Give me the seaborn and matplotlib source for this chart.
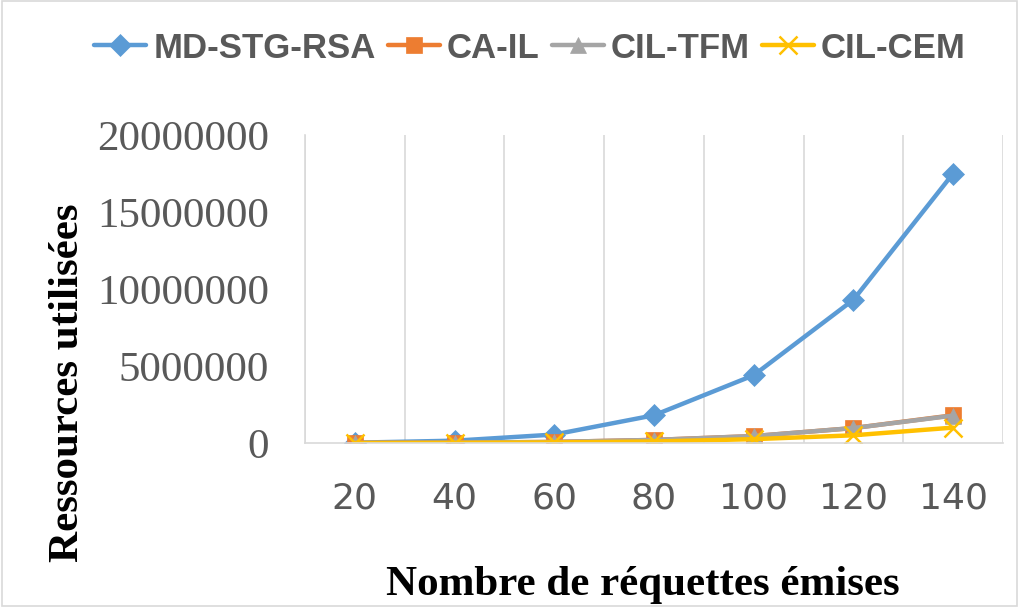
import matplotlib
matplotlib.use("Agg")
import matplotlib.pyplot as plt
import seaborn as sns
import pandas as pd

requetes = ["20", "40", "60", "80", "100", "120", "140"]
md_stg_rsa = [20000, 150000, 550000, 1800000, 4400000, 9300000, 17500000]
ca_il = [3000, 20000, 70000, 200000, 450000, 970000, 1800000]
cil_tfm = [3000, 20000, 70000, 200000, 450000, 970000, 1780000]
cil_cem = [1000, 10000, 40000, 100000, 250000, 500000, 1000000]
series_names = ["MD-STG-RSA", "CA-IL", "CIL-TFM", "CIL-CEM"]
y_ticks = [0, 5000000, 10000000, 15000000, 20000000]

sns.set_theme(style="white")
plt.rcParams['font.family'] = ['DejaVu Sans']

colors = ["#5B9BD5", "#ED7D31", "#A5A5A5", "#FFC000"]
markers = ["D", "s", "^", "x"]

rows = []
for name, vals in zip(series_names, [md_stg_rsa, ca_il, cil_tfm, cil_cem]):
    for i, (lab, v) in enumerate(zip(requetes, vals)):
        rows.append({"idx": i, "req": lab, "val": v, "serie": name})
df = pd.DataFrame(rows)

fig = plt.figure(figsize=(10.19, 6.07), dpi=100)
ax = fig.add_axes([305/1019, (607-443)/607, (1003-305)/1019, (443-135)/607])

sizes = {"D": 11, "s": 12, "^": 12, "x": 13}
for name, c, m in zip(series_names, colors, markers):
    sub = df[df["serie"] == name]
    sns.lineplot(data=sub, x="idx", y="val", ax=ax, color=c, marker=m,
                 markersize=sizes[m], linewidth=3.2,
                 markeredgecolor=c, markeredgewidth=1.8 if m == "x" else 0.5,
                 label=name, legend=False)

ax.set_xlim(-0.5, len(requetes) - 0.5)
ax.set_ylim(0, 20000000)
ax.set_xticks(range(len(requetes)))
ax.set_xticklabels(requetes)
ax.set_xticks([i + 0.5 for i in range(-1, len(requetes))], minor=True)
ax.set_yticks(y_ticks)
ax.set_yticklabels([str(t) for t in y_ticks], fontfamily="Liberation Serif",
                   fontsize=31, color="#595959")
for t in ax.get_xticklabels():
    t.set_fontsize(26)
    t.set_color("#595959")
ax.tick_params(axis="x", which="both", length=0, pad=28)
ax.tick_params(axis="y", which="both", length=0, pad=26)
ax.grid(False)
ax.xaxis.grid(True, which="minor", color="#D9D9D9", linewidth=1.2)
for s in ["top", "right"]:
    ax.spines[s].set_visible(False)
ax.spines["left"].set_color("#D9D9D9")
ax.spines["bottom"].set_color("#D9D9D9")
ax.spines["left"].set_linewidth(1.2)
ax.spines["bottom"].set_linewidth(1.2)

ax.set_xlabel("")
ax.set_ylabel("")
fig.text(643/1019, 1 - 585/607, "Nombre de réquettes émises", ha="center", va="center",
         fontfamily="Liberation Serif", fontweight="bold", fontsize=31, color="black")
fig.text(68/1019, 1 - 383/607, "Ressources utilisées", ha="center", va="center",
         rotation=90, fontfamily="Liberation Serif", fontweight="bold", fontsize=31,
         color="black")

handles, labels = ax.get_legend_handles_labels()
leg = fig.legend(handles, labels, loc="center", bbox_to_anchor=(530/1019, 1 - 48/607),
                 ncol=4, frameon=False, handlelength=1.5, handletextpad=0.2,
                 columnspacing=0.35,
                 prop={"family": "Liberation Sans", "weight": "bold", "size": 25})
for t in leg.get_texts():
    t.set_color("#595959")

border = plt.Rectangle((0.002, 0.002), 0.996, 0.996, transform=fig.transFigure,
                       fill=False, edgecolor="#D9D9D9", linewidth=1.2)
fig.patches.append(border)

fig.savefig("out.png", dpi=100)
